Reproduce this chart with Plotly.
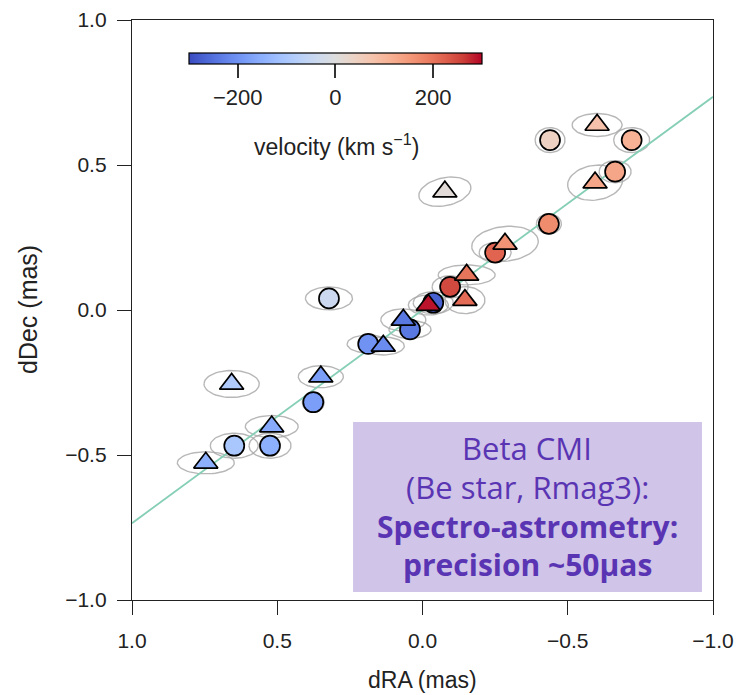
import numpy as np
import plotly.graph_objects as go

# ---------------- data ----------------
# circles (one set of measurements)
circ_ra = [0.322, 0.187, 0.043, -0.037, -0.095, -0.250, -0.435, -0.439, -0.663, -0.720, 0.376, 0.648, 0.525]
circ_dec = [0.040, -0.117, -0.067, 0.025, 0.080, 0.198, 0.297, 0.586, 0.477, 0.586, -0.318, -0.468, -0.468]
circ_vel = [-40, -200, -240, -270, 250, 220, 170, 40, 130, 110, -180, -100, -150]
circ_ew = [0.162, 0.145, 0.145, 0.138, 0.124, 0.110, 0.086, 0.103, 0.110, 0.124, 0.076, 0.165, 0.145]
circ_eh = [0.079, 0.062, 0.062, 0.076, 0.076, 0.069, 0.069, 0.086, 0.076, 0.086, 0.069, 0.086, 0.086]
circ_ang = [0, 0, 0, 0, 0, 0, 0, 0, 0, 0, 0, 0, 0]

# triangles (second set of measurements)
tri_ra = [-0.601, -0.594, -0.077, -0.284, -0.152, -0.146, -0.020, 0.135, 0.066, 0.657, 0.350, 0.519, 0.746]
tri_dec = [0.638, 0.439, 0.408, 0.228, 0.121, 0.034, 0.017, -0.124, -0.034, -0.255, -0.230, -0.402, -0.527]
tri_vel = [80, 130, 10, 160, 200, 210, 290, -210, -240, -90, -180, -160, -150]
tri_ew = [0.172, 0.190, 0.182, 0.230, 0.196, 0.138, 0.138, 0.145, 0.155, 0.190, 0.155, 0.182, 0.196]
tri_eh = [0.079, 0.120, 0.096, 0.120, 0.069, 0.093, 0.069, 0.062, 0.076, 0.093, 0.076, 0.076, 0.076]
tri_ang = [0, -8, -12, -6, 0, 0, 0, 0, 0, 0, 0, 0, 0]

# fitted position-angle line (dDec = slope * dRA)
fit_slope = -0.735
fit_ra = [1.0, -1.0]

vel_range = [-300, 300]
cbar_ticks = [-200, 0, 200]
cbar_ticktext = ["\u2212200", "0", "200"]
cbar_title = "velocity (km s<sup>\u22121</sup>)"

axis_ticks = [-1.0, -0.5, 0.0, 0.5, 1.0]
axis_ticktext = ["\u22121.0", "\u22120.5", "0.0", "0.5", "1.0"]
x_title = "dRA (mas)"
y_title = "dDec (mas)"

box_lines = ["Beta CMI", "(Be star, Rmag3):", "<b>Spectro-astrometry:</b>", "<b>precision ~50\u03bcas</b>"]
box_line_y = [-0.476, -0.612, -0.745, -0.876]
box_line_size = [31, 31, 30, 30]

# ---------------- styles ----------------
coolwarm = [
    [0.0, "rgb(59,76,192)"], [0.0625, "rgb(77,104,215)"], [0.125, "rgb(98,130,234)"],
    [0.1875, "rgb(119,154,247)"], [0.25, "rgb(141,176,254)"], [0.3125, "rgb(163,194,255)"],
    [0.375, "rgb(184,208,249)"], [0.4375, "rgb(204,217,238)"], [0.5, "rgb(221,221,221)"],
    [0.5625, "rgb(236,211,197)"], [0.625, "rgb(245,196,173)"], [0.6875, "rgb(247,177,148)"],
    [0.75, "rgb(244,154,123)"], [0.8125, "rgb(236,127,99)"], [0.875, "rgb(222,96,77)"],
    [0.9375, "rgb(203,62,56)"], [1.0, "rgb(180,4,38)"],
]


def ellipse_path(cx, cy, w, h, ang):
    xs, ys = [], []
    t = np.linspace(0, 2 * np.pi, 60)
    for x0, y0, ww, hh, a in zip(cx, cy, w, h, ang):
        th = np.deg2rad(a)
        ex = ww / 2 * np.cos(t)
        ey = hh / 2 * np.sin(t)
        xs += list(x0 + ex * np.cos(th) - ey * np.sin(th)) + [None]
        ys += list(y0 + ex * np.sin(th) + ey * np.cos(th)) + [None]
    return xs, ys


fig = go.Figure()

ex1, ey1 = ellipse_path(circ_ra, circ_dec, circ_ew, circ_eh, circ_ang)
ex2, ey2 = ellipse_path(tri_ra, tri_dec, tri_ew, tri_eh, tri_ang)
fig.add_trace(go.Scatter(x=ex1 + ex2, y=ey1 + ey2, mode="lines",
                         line=dict(color="rgba(165,165,165,0.8)", width=1.4),
                         hoverinfo="skip", showlegend=False))

fig.add_trace(go.Scatter(x=fit_ra, y=[fit_slope * v for v in fit_ra], mode="lines",
                         line=dict(color="#86cfb6", width=1.8),
                         hoverinfo="skip", showlegend=False))

fig.add_trace(go.Scatter(x=circ_ra, y=circ_dec, mode="markers",
                         marker=dict(symbol="circle", size=20, color=circ_vel, coloraxis="coloraxis",
                                     line=dict(color="black", width=1.7)),
                         showlegend=False))
fig.add_trace(go.Scatter(x=tri_ra, y=tri_dec, mode="markers",
                         marker=dict(symbol="triangle-up", size=21, color=tri_vel, coloraxis="coloraxis",
                                     line=dict(color="black", width=1.7)),
                         showlegend=False))

# text box
fig.add_shape(type="rect", xref="x", yref="y", x0=0.239, x1=-0.962, y0=-0.386, y1=-0.972,
              fillcolor="#d0c4e8", line=dict(width=0), layer="below")
for txt, yy, sz in zip(box_lines, box_line_y, box_line_size):
    fig.add_annotation(x=-0.360, y=yy, xref="x", yref="y", text=txt, showarrow=False,
                       xanchor="center", yanchor="middle",
                       font=dict(family="Open Sans", size=sz, color="#5a35b3"))

# colorbar title as annotation (below tick labels)
fig.add_annotation(x=0.352, y=0.784, xref="paper", yref="paper", text=cbar_title, showarrow=False,
                   xanchor="center", yanchor="middle",
                   font=dict(family="Liberation Sans, Arial", size=23, color="#222"))

# axis titles as annotations (fixed positions)
title_font = dict(family="Liberation Sans, Arial", size=23, color="#222")
fig.add_annotation(x=0.5, y=-0.138, xref="paper", yref="paper", text=x_title, showarrow=False,
                   xanchor="center", yanchor="middle", font=title_font)
fig.add_annotation(x=-0.179, y=0.5, xref="paper", yref="paper", text=y_title, showarrow=False,
                   xanchor="center", yanchor="middle", textangle=-90,
                   font=dict(family="Liberation Sans, Arial", size=25, color="#222"))

tick_font_y = dict(family="Liberation Sans, Arial", size=21, color="#222")
tick_font_cb = dict(family="Liberation Sans, Arial", size=22, color="#222")
tick_font_x = dict(family="Liberation Sans Narrow, Liberation Sans, Arial", size=21, color="#222")
fig.update_layout(
    width=740, height=695,
    margin=dict(l=132, r=27, t=20, b=95, autoexpand=False),
    paper_bgcolor="white", plot_bgcolor="white",
    coloraxis=dict(
        colorscale=coolwarm, cmin=vel_range[0], cmax=vel_range[1],
        colorbar=dict(
            orientation="h", lenmode="pixels", len=293, thickness=11,
            xanchor="left", x=0.098, yanchor="top", y=0.943, xpad=0, ypad=0,
            outlinecolor="black", outlinewidth=1.2,
            tickmode="array", tickvals=cbar_ticks, ticktext=cbar_ticktext,
            ticks="outside", ticklen=14, tickcolor="#333", tickwidth=1.5,
            tickfont=tick_font_cb,
        ),
    ),
    xaxis=dict(range=[1.0, -1.0], tickmode="array", tickvals=axis_ticks, ticktext=axis_ticktext,
               ticks="outside", ticklen=14, tickwidth=1.3, tickcolor="#222", ticklabelstandoff=8,
               showline=True, linecolor="#222", linewidth=1.4, mirror=True, automargin=False,
               showgrid=False, zeroline=False, tickfont=tick_font_x),
    yaxis=dict(range=[-1.0, 1.0], tickmode="array", tickvals=axis_ticks, ticktext=axis_ticktext,
               ticks="outside", ticklen=14, tickwidth=1.3, tickcolor="#222", ticklabelstandoff=6,
               showline=True, linecolor="#222", linewidth=1.4, mirror=True, automargin=False,
               showgrid=False, zeroline=False, tickfont=tick_font_y),
)

fig.write_html("out.html", config={"displayModeBar": False},
               post_script="document.body.style.margin='0';")
